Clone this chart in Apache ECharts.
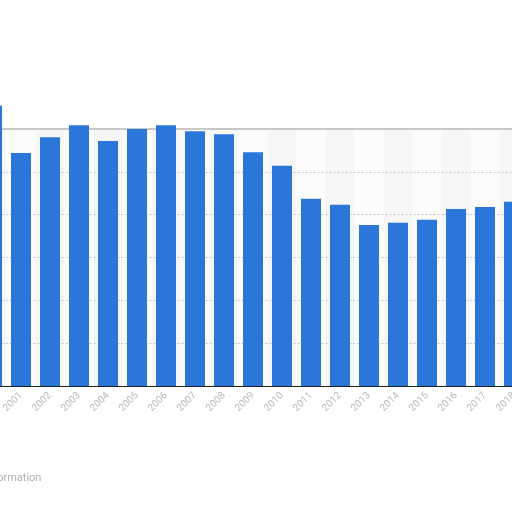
<!DOCTYPE html>
<html><head><meta charset="utf-8">
<script src="https://cdn.jsdelivr.net/npm/echarts@6/dist/echarts.min.js"></script>
<style>html,body{margin:0;padding:0;background:#fff}#c{width:512px;height:512px}</style>
</head><body><div id="c"></div>
<script>
var years = ['2000','2001','2002','2003','2004','2005','2006','2007','2008','2009','2010','2011','2012','2013','2014','2015','2016','2017','2018'];
var values = [6.54,5.44,5.81,6.09,5.72,6.00,6.09,5.95,5.88,5.46,5.14,4.37,4.23,3.76,3.81,3.88,4.13,4.18,4.30];
var yTicks = [0,1,2,3,4,5,6];

var chart = echarts.init(document.getElementById('c'));
chart.setOption({
  animation:false,
  grid:{left:-22.5,right:-16.5,top:129,bottom:126,containLabel:false,outerBoundsMode:'none'},
  xAxis:[{
    type:'category',data:years,z:0,
    axisLine:{lineStyle:{color:'#222',width:1}},
    axisTick:{show:false},
    axisLabel:{rotate:45,color:'#b8b8b8',fontSize:10,fontFamily:'Roboto',margin:8},
    splitArea:{show:true,areaStyle:{color:['#f6f6f6','#fcfcfc']}}
  },{
    type:'category',data:years,position:'top',z:3,
    axisLine:{lineStyle:{color:'#c8c8c8',width:2}},
    axisTick:{show:false},axisLabel:{show:false}
  }],
  yAxis:{
    type:'value',min:yTicks[0],max:yTicks[yTicks.length-1],interval:1,z:1,
    axisLabel:{show:false},axisLine:{show:false},axisTick:{show:false},
    splitLine:{showMinLine:false,showMaxLine:false,lineStyle:{color:'#c4c4c4',type:[2,2],width:1}}
  },
  series:[{
    type:'bar',data:values,barWidth:20,clip:false,z:4,
    itemStyle:{color:'#2b76d9'}
  }],
  graphic:[{type:'text',left:-68,top:473,style:{text:'Additional Information',fill:'#b0b0b0',font:'11px Roboto'}}]
});
</script></body></html>
